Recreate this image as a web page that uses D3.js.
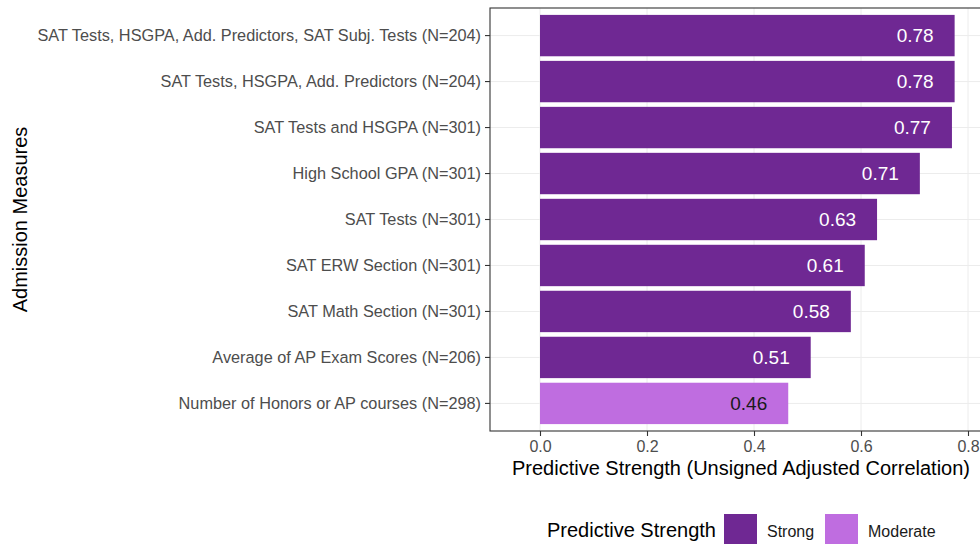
<!DOCTYPE html>
<html>
<head>
<meta charset="utf-8">
<script src="https://cdn.jsdelivr.net/npm/d3@7"></script>
<style>
  html, body { margin: 0; padding: 0; background: #ffffff; }
  svg { display: block; font-family: "Liberation Sans", Arial, sans-serif; }
</style>
</head>
<body>
<svg id="chart" width="980" height="544"></svg>
<script>
// ---- data ----
const categories = [
  "SAT Tests, HSGPA, Add. Predictors, SAT Subj. Tests (N=204)",
  "SAT Tests, HSGPA, Add. Predictors (N=204)",
  "SAT Tests and HSGPA (N=301)",
  "High School GPA (N=301)",
  "SAT Tests (N=301)",
  "SAT ERW Section (N=301)",
  "SAT Math Section (N=301)",
  "Average of AP Exam Scores (N=206)",
  "Number of Honors or AP courses (N=298)"
];
const values = [0.775, 0.775, 0.77, 0.71, 0.63, 0.607, 0.581, 0.506, 0.464];
const valueLabels = ["0.78", "0.78", "0.77", "0.71", "0.63", "0.61", "0.58", "0.51", "0.46"];
const strength = ["Strong", "Strong", "Strong", "Strong", "Strong", "Strong", "Strong", "Strong", "Moderate"];
const xTicks = [0, 0.2, 0.4, 0.6, 0.8];
const xTickLabels = ["0.0", "0.2", "0.4", "0.6", "0.8"];
const legendLevels = ["Strong", "Moderate"];
const legendColors = ["#6f2893", "#bf6de0"];

// ---- layout ----
const svg = d3.select("#chart");
const panel = { left: 490, top: 8, right: 992, bottom: 431 };

const x = d3.scaleLinear().domain([0, 0.8]).range([540, 968]);
const y = d3.scaleBand().domain(categories).range([panel.top, panel.bottom])
  .paddingInner(0.1).paddingOuter(0.15);
const color = d3.scaleOrdinal().domain(legendLevels).range(legendColors);

// gridlines
const grid = svg.append("g");
grid.selectAll("line.gx").data(xTicks).enter().append("line")
  .attr("x1", d => x(d)).attr("x2", d => x(d))
  .attr("y1", panel.top).attr("y2", panel.bottom)
  .attr("stroke", "#ececec").attr("stroke-width", 1);
grid.selectAll("line.gy").data(categories).enter().append("line")
  .attr("x1", panel.left).attr("x2", panel.right)
  .attr("y1", d => y(d) + y.bandwidth() / 2).attr("y2", d => y(d) + y.bandwidth() / 2)
  .attr("stroke", "#ececec").attr("stroke-width", 1);

// bars
const rows = categories.map((c, i) => ({ c, v: values[i], lab: valueLabels[i], s: strength[i] }));
svg.append("g").selectAll("rect").data(rows).enter().append("rect")
  .attr("x", x(0))
  .attr("y", d => y(d.c))
  .attr("width", d => x(d.v) - x(0))
  .attr("height", y.bandwidth())
  .attr("fill", d => color(d.s));

// value labels
svg.append("g").selectAll("text").data(rows).enter().append("text")
  .attr("x", d => x(d.v) - 21)
  .attr("y", d => y(d.c) + y.bandwidth() / 2)
  .attr("dy", "0.36em")
  .attr("text-anchor", "end")
  .attr("font-size", 19)
  .attr("fill", d => d.s === "Strong" ? "#ffffff" : "#1a1a1a")
  .text(d => d.lab);

// panel border
svg.append("rect")
  .attr("x", panel.left).attr("y", panel.top)
  .attr("width", panel.right - panel.left).attr("height", panel.bottom - panel.top)
  .attr("fill", "none").attr("stroke", "#333333").attr("stroke-width", 1.1);

// axes
const xAxis = d3.axisBottom(x).tickValues(xTicks).tickFormat((d, i) => xTickLabels[i])
  .tickSize(5).tickPadding(5);
const gx = svg.append("g").attr("transform", `translate(0,${panel.bottom})`).call(xAxis);
gx.select(".domain").remove();
gx.selectAll(".tick line").attr("stroke", "#333333").attr("stroke-width", 1.1);
gx.selectAll(".tick text").attr("font-size", 16).attr("fill", "#4d4d4d")
  .attr("font-family", "Liberation Sans, Arial, sans-serif");

const yAxis = d3.axisLeft(y).tickSize(5).tickPadding(4);
const gy = svg.append("g").attr("transform", `translate(${panel.left},0)`).call(yAxis);
gy.select(".domain").remove();
gy.selectAll(".tick line").attr("stroke", "#333333").attr("stroke-width", 1.1);
gy.selectAll(".tick text").attr("font-size", 16.3).attr("fill", "#4d4d4d")
  .attr("font-family", "Liberation Sans, Arial, sans-serif");

// axis titles
svg.append("text")
  .attr("x", 741).attr("y", 475)
  .attr("text-anchor", "middle").attr("font-size", 20).attr("fill", "#000")
  .text("Predictive Strength (Unsigned Adjusted Correlation)");
svg.append("text")
  .attr("transform", `translate(27,${(panel.top + panel.bottom) / 2}) rotate(-90)`)
  .attr("text-anchor", "middle").attr("font-size", 20).attr("fill", "#000")
  .text("Admission Measures");

// legend
const lg = svg.append("g");
lg.append("text").attr("x", 547).attr("y", 537).attr("font-size", 20).attr("fill", "#000")
  .text("Predictive Strength");
const keyX = [724, 825];
const labX = [767, 868];
legendLevels.forEach((lv, i) => {
  lg.append("rect").attr("x", keyX[i]).attr("y", 514).attr("width", 33).attr("height", 33)
    .attr("fill", color(lv));
  lg.append("text").attr("x", labX[i]).attr("y", 537).attr("font-size", 16).attr("fill", "#1a1a1a")
    .text(lv);
});
</script>
</body>
</html>
